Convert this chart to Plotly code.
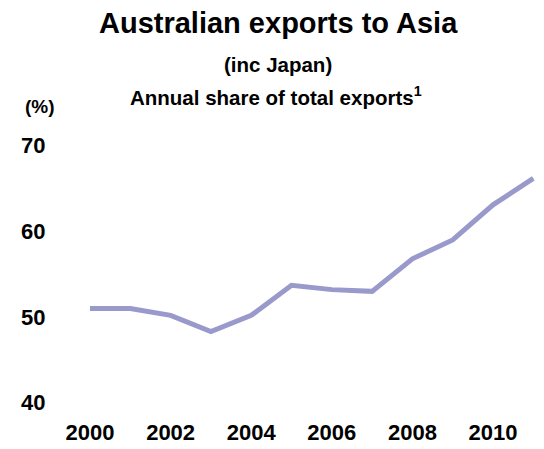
import plotly.graph_objects as go

years = [2000, 2001, 2002, 2003, 2004, 2005, 2006, 2007, 2008, 2009, 2010, 2011]
share_pct = [51.0, 51.0, 50.2, 48.3, 50.2, 53.7, 53.2, 53.0, 56.8, 59.0, 63.1, 66.2]
y_ticks = [40, 50, 60, 70]
x_ticks = [2000, 2002, 2004, 2006, 2008, 2010]

W, H = 544, 449
ML, MR, MT, MB = 55, 4, 140, 32
PW, PH = W - ML - MR, H - MT - MB

def px_x(px):
    return (px - ML) / PW

def px_y(py):
    return (H - MB - py) / PH

FONT = "Liberation Sans, Arial, sans-serif"

fig = go.Figure()
fig.add_trace(go.Scatter(
    x=years, y=share_pct, mode="lines",
    line=dict(color="#9999CC", width=5),
    hoverinfo="x+y", showlegend=False,
))

axis_font = dict(family=FONT, size=22, color="black", weight="bold")
fig.update_xaxes(
    range=[1999.131, 2011.166], tickvals=x_ticks, ticktext=[str(v) for v in x_ticks],
    showgrid=False, zeroline=False, showline=False, automargin=False,
    ticks="", tickfont=axis_font,
)
fig.update_yaxes(
    range=[38.33, 70.67], tickvals=y_ticks, ticktext=[str(v) for v in y_ticks],
    showgrid=False, zeroline=False, showline=False, automargin=False,
    ticks="outside", ticklen=4, tickcolor="rgba(0,0,0,0)",
    tickfont=axis_font,
)

texts = [
    ("<b>Australian exports to Asia</b>", 278, 23, 29),
    ("<b>(inc Japan)</b>", 277.5, 64, 20.5),
    ("<b>Annual share of total exports<sup>1</sup></b>", 275.5, 96, 20.5),
    ("<b>(%)</b>", 40, 106, 19),
]
for txt, cx, cy, size in texts:
    fig.add_annotation(
        text=txt, xref="paper", yref="paper",
        x=px_x(cx), y=px_y(cy), xanchor="center", yanchor="middle",
        showarrow=False, font=dict(family=FONT, size=size, color="black"),
    )

fig.update_layout(
    width=W, height=H,
    margin=dict(l=ML, r=MR, t=MT, b=MB),
    paper_bgcolor="white", plot_bgcolor="white",
)

fig.write_html("out.html")
